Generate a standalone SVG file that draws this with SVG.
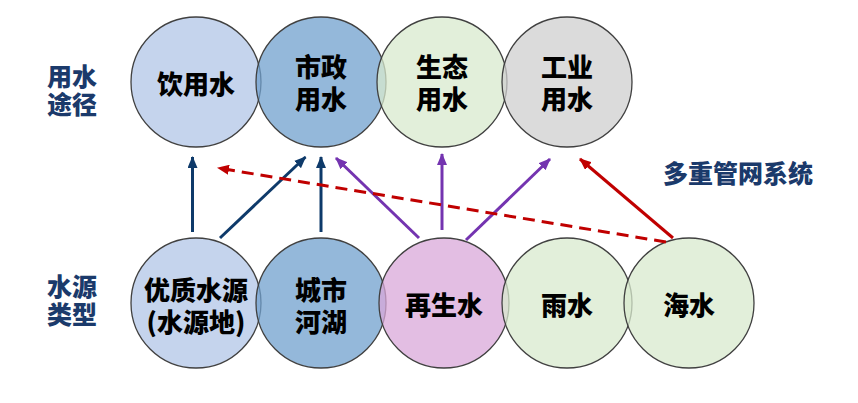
<svg xmlns="http://www.w3.org/2000/svg" width="858" height="403" viewBox="0 0 858 403">
<defs>
<style>
.c{stroke:#404040;stroke-width:1.3;fill-opacity:0.75}
.t{font-family:"Noto Sans CJK SC","Noto Sans",sans-serif;font-weight:900;font-size:26px;fill:#000;text-anchor:middle;dominant-baseline:central}
.h{font-family:"Noto Sans CJK SC","Noto Sans",sans-serif;font-weight:900;font-size:25px;fill:#1B3A6B;text-anchor:middle;dominant-baseline:central}
.a{fill:none;stroke-width:3}
.nv{stroke:#0E3A6A}
.pu{stroke:#7434B0}
.rd{stroke:#C00000}
</style>
<marker id="mn" viewBox="0 0 12 10" refX="11" refY="5" markerWidth="12" markerHeight="10" markerUnits="userSpaceOnUse" orient="auto"><path d="M0,0 L12,5 L0,10 z" fill="#0E3A6A"/></marker>
<marker id="mp" viewBox="0 0 12 10" refX="11" refY="5" markerWidth="12" markerHeight="10" markerUnits="userSpaceOnUse" orient="auto"><path d="M0,0 L12,5 L0,10 z" fill="#7434B0"/></marker>
<marker id="mr" viewBox="0 0 12 10" refX="11" refY="5" markerWidth="12" markerHeight="10" markerUnits="userSpaceOnUse" orient="auto"><path d="M0,0 L12,5 L0,10 z" fill="#C00000"/></marker>
</defs>
<rect width="858" height="403" fill="#fff"/>
<g id="label-use"><text class="h" x="72" y="75">用水</text><text class="h" x="72" y="103">途径</text></g>
<g id="label-source"><text class="h" x="72" y="285">水源</text><text class="h" x="72" y="313">类型</text></g>
<g id="label-system"><text class="h" x="738" y="172">多重管网系统</text></g>
<g id="use-drink"><circle class="c" cx="196" cy="82" r="65" fill="#B2C6E7"/><text class="t" x="196" y="82">饮用水</text></g>
<g id="use-municipal"><circle class="c" cx="321" cy="82" r="65" fill="#70A0CE"/><text class="t" x="321" y="65">市政</text><text class="t" x="321" y="97">用水</text></g>
<g id="use-eco"><circle class="c" cx="442" cy="82" r="65" fill="#D8EACE"/><text class="t" x="442" y="65">生态</text><text class="t" x="442" y="97">用水</text></g>
<g id="use-industry"><circle class="c" cx="567" cy="82" r="65" fill="#CFCFCF"/><text class="t" x="567" y="65">工业</text><text class="t" x="567" y="97">用水</text></g>
<g id="src-quality"><circle class="c" cx="196" cy="303" r="65" fill="#B2C6E7"/><text class="t" x="196" y="288">优质水源</text><text class="t" x="196" y="320">(水源地)</text></g>
<g id="src-river"><circle class="c" cx="321" cy="303" r="65" fill="#70A0CE"/><text class="t" x="321" y="288">城市</text><text class="t" x="321" y="320">河湖</text></g>
<g id="src-reclaimed"><circle class="c" cx="444" cy="303" r="65" fill="#DAA8DA"/><text class="t" x="444" y="303">再生水</text></g>
<g id="src-rain"><circle class="c" cx="567" cy="303" r="65" fill="#D8EACE"/><text class="t" x="567" y="303">雨水</text></g>
<g id="src-sea"><circle class="c" cx="689" cy="303" r="65" fill="#D8EACE"/><text class="t" x="689" y="303">海水</text></g>
<g id="connectors">
<line class="a nv" x1="192.5" y1="232" x2="192.5" y2="157" marker-end="url(#mn)"/>
<line class="a nv" x1="220" y1="238" x2="305.5" y2="157" marker-end="url(#mn)"/>
<line class="a nv" x1="321" y1="232" x2="321" y2="157" marker-end="url(#mn)"/>
<line class="a pu" x1="419" y1="238" x2="336" y2="158" marker-end="url(#mp)"/>
<line class="a pu" x1="442" y1="230" x2="442" y2="154" marker-end="url(#mp)"/>
<line class="a pu" x1="466" y1="240" x2="550" y2="159" marker-end="url(#mp)"/>
<line class="a rd" x1="673" y1="238" x2="580" y2="159" marker-end="url(#mr)"/>
<line class="a rd" x1="666" y1="242" x2="218" y2="168" stroke-width="4" stroke-dasharray="12 7" marker-end="url(#mr)"/>
</g>
</svg>
